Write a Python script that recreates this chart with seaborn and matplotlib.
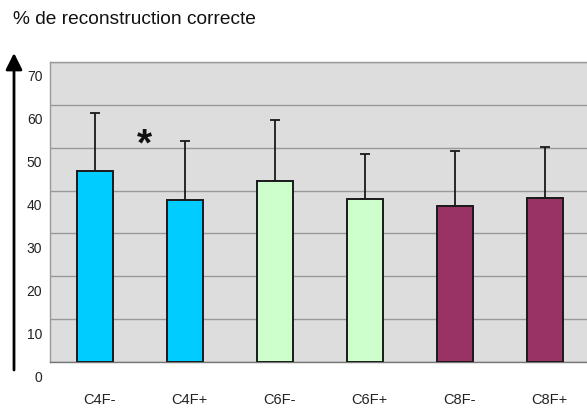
import numpy as np
import pandas as pd
import matplotlib
matplotlib.use('Agg')
import matplotlib.pyplot as plt
import matplotlib.transforms as mtransforms
import seaborn as sns

# data
groups = ['C4F-', 'C4F+', 'C6F-', 'C6F+', 'C8F-', 'C8F+']
means = [44.6, 37.7, 42.3, 38.0, 36.4, 38.3]
errors = [13.5, 13.9, 14.1, 10.5, 12.8, 11.9]
colors = ['#00CCFF', '#00CCFF', '#CCFFCC', '#CCFFCC', '#993366', '#993366']
y_ticks = [0, 10, 20, 30, 40, 50, 60, 70]

sns.set_style('white')
plt.rcParams['font.family'] = ['Liberation Sans', 'DejaVu Sans']

df = pd.DataFrame({'group': groups, 'mean': means})

fig = plt.figure(figsize=(5.87, 4.08), dpi=100)
ax = fig.add_axes([50 / 587, 46 / 408, 540 / 587, 300 / 408])
ax.set_facecolor('#DDDDDD')

sns.barplot(data=df, x='group', y='mean', hue='group', palette=colors,
            legend=False, width=0.41, edgecolor='#1a1a1a', linewidth=1.4,
            saturation=1, ax=ax, zorder=3)
ax.errorbar(range(len(groups)), means, yerr=[np.zeros(len(groups)), errors],
            fmt='none', ecolor='#1a1a1a', elinewidth=1.3, capsize=3.3,
            capthick=1.3, zorder=2)

ax.set_xlim(-0.5, len(groups) - 0.5)
ax.set_ylim(0, 70)
ax.set_yticks(y_ticks)
ax.yaxis.grid(True, color='#999999', linewidth=1, zorder=0)
ax.set_axisbelow(True)
ax.tick_params(axis='y', length=0, pad=5.5, labelsize=10, labelcolor='#222222')
ax.tick_params(axis='x', length=0, pad=22, labelsize=10.5, labelcolor='#222222')
ax.set_xticks(np.arange(len(groups) + 1) - 0.5, minor=True)
ax.tick_params(axis='x', which='minor', length=4, color='#999999', width=1)
ax.set_xlabel('')
ax.set_ylabel('')

# y labels sit a bit below their gridlines in the original
shift = mtransforms.ScaledTranslation(0, -14 / 100, fig.dpi_scale_trans)
for lab in ax.get_yticklabels():
    lab.set_transform(lab.get_transform() + shift)
xshift = mtransforms.ScaledTranslation(4 / 100, 0, fig.dpi_scale_trans)
for lab in ax.get_xticklabels():
    lab.set_transform(lab.get_transform() + xshift)

for side in ['left', 'top', 'bottom']:
    ax.spines[side].set_color('#999999')
    ax.spines[side].set_linewidth(1)
ax.spines['bottom'].set_color('#777777')
ax.spines['right'].set_visible(False)

ax.text(0.555, 48.3, '*', ha='center', va='baseline', fontsize=28,
        fontweight='bold', color='#111111')

fig.text(13 / 587, 1 - 19 / 408, '% de reconstruction correcte',
         ha='left', va='center', fontsize=13.8, color='#111111')

# vertical arrow on the far left
ax_arrow = fig.add_axes([0, 0, 1, 1], facecolor='none')
ax_arrow.set_xlim(0, 587)
ax_arrow.set_ylim(408, 0)
ax_arrow.axis('off')
ax_arrow.annotate('', xy=(14, 53), xytext=(14, 370),
                  arrowprops=dict(arrowstyle='-|>,head_width=0.5,head_length=1.0',
                                  color='black', lw=2, shrinkA=0, shrinkB=0))

fig.savefig('out.png', dpi=100)
